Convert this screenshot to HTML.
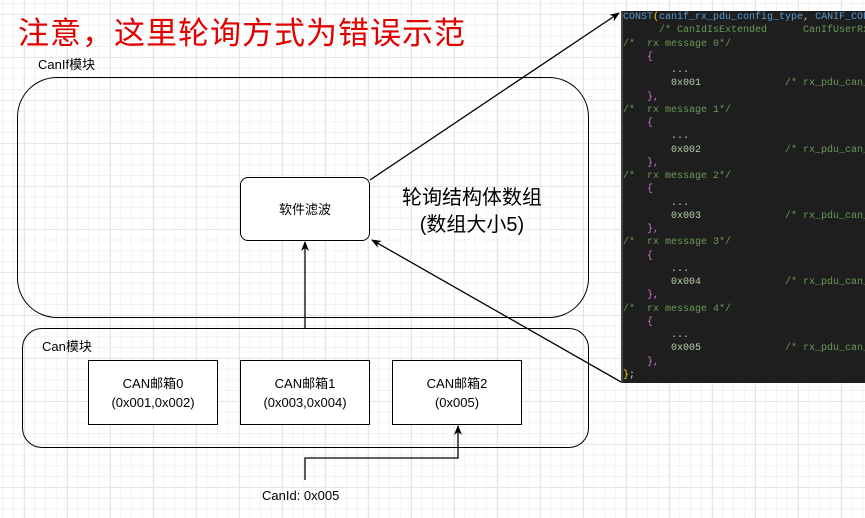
<!DOCTYPE html>
<html><head><meta charset="utf-8"><style>
html,body{margin:0;padding:0}
body{width:865px;height:518px;position:relative;overflow:hidden;background:#fff;
background-image:linear-gradient(#e6e6e6 1px,transparent 1px),linear-gradient(90deg,#e6e6e6 1px,transparent 1px),linear-gradient(#f2f2f2 1px,transparent 1px),linear-gradient(90deg,#f2f2f2 1px,transparent 1px);
background-size:43px 43px,43px 43px,10.75px 10.75px,10.75px 10.75px;background-position:24px 14px,24px 14px,2px 3px,2px 3px;
font-family:"Liberation Sans","Noto Sans CJK SC",sans-serif}
.t{position:absolute;white-space:nowrap}
.box{position:absolute;border:1.5px solid #000;background:#fff;box-sizing:border-box}
.c{text-align:center;font-size:13px;color:#000;display:flex;flex-direction:column;justify-content:center;align-items:center;line-height:19px}
#code{position:absolute;left:621px;top:11px;width:244px;height:372px;background:#1e1e1e;border-left:2px solid #444;font-family:"Liberation Mono",monospace;font-size:10px;line-height:13.25px;color:#6a9955}
#code div{height:13.25px;white-space:pre}
.b{color:#569cd6}.y{color:#ffd700}.p{color:#da70d6}.w{color:#ccc}.n{color:#b5cea8}
</style></head><body>
<div class="t" style="left:18px;top:8px;font-size:31px;color:#e00000;font-family:'Noto Sans CJK SC',sans-serif;letter-spacing:1px">注意，这里轮询方式为错误示范</div>
<div class="t" style="left:38px;top:54px;font-size:13px">CanIf模块</div>
<div class="box" style="left:17px;top:77px;width:572px;height:241px;border-radius:40px;background:transparent"></div>
<div class="box c" style="left:240px;top:177px;width:130px;height:64px;border-radius:8px">软件滤波</div>
<div class="t" style="left:402px;top:185px;font-size:20px;text-align:center;line-height:27px">轮询结构体数组<br>(数组大小5)</div>
<div class="box" style="left:22px;top:328px;width:567px;height:120px;border-radius:20px;background:transparent"></div>
<div class="t" style="left:42px;top:336px;font-size:13px">Can模块</div>
<div class="box c" style="left:88px;top:360px;width:130px;height:65px">CAN邮箱0<br>(0x001,0x002)</div>
<div class="box c" style="left:240px;top:360px;width:130px;height:65px">CAN邮箱1<br>(0x003,0x004)</div>
<div class="box c" style="left:392px;top:360px;width:130px;height:65px">CAN邮箱2<br>(0x005)</div>
<div class="t" style="left:262px;top:488px;font-size:13px">CanId: 0x005</div>
<div id="code">
<div><span class="b">CONST</span><span class="y">(</span><span class="b">canif_rx_pdu_config_type</span><span class="w">, </span><span class="b">CANIF_CONST</span><span class="y">)</span></div>
<div>      /* CanIdIsExtended      CanIfUserRxIndi</div>
<div>/*  rx message 0*/</div><div class="p">    {</div><div class="w">        ...</div><div><span class="n">        0x001</span>              /* rx_pdu_can_id</div><div class="p">    },</div>
<div>/*  rx message 1*/</div><div class="p">    {</div><div class="w">        ...</div><div><span class="n">        0x002</span>              /* rx_pdu_can_id</div><div class="p">    },</div>
<div>/*  rx message 2*/</div><div class="p">    {</div><div class="w">        ...</div><div><span class="n">        0x003</span>              /* rx_pdu_can_id</div><div class="p">    },</div>
<div>/*  rx message 3*/</div><div class="p">    {</div><div class="w">        ...</div><div><span class="n">        0x004</span>              /* rx_pdu_can_id</div><div class="p">    },</div>
<div>/*  rx message 4*/</div><div class="p">    {</div><div class="w">        ...</div><div><span class="n">        0x005</span>              /* rx_pdu_can_id</div><div class="p">    },</div>
<div><span class="y">}</span><span class="w">;</span></div>
</div>
<svg width="865" height="518" style="position:absolute;left:0;top:0" fill="none" stroke="#000" stroke-width="1.3">
<defs><marker id="a" markerWidth="10" markerHeight="10" refX="9" refY="5" orient="auto" markerUnits="userSpaceOnUse"><path d="M0,1 L10,5 L0,9 L3,5z" fill="#000" stroke="none"/></marker></defs>
<line x1="305" y1="328" x2="305" y2="242" marker-end="url(#a)"/>
<polyline points="305,480 305,458 458,458 458,426" marker-end="url(#a)"/>
<line x1="621" y1="382" x2="372" y2="240" marker-end="url(#a)"/>
<line x1="370" y1="180" x2="619" y2="13" marker-end="url(#a)"/>
</svg>
</body></html>
